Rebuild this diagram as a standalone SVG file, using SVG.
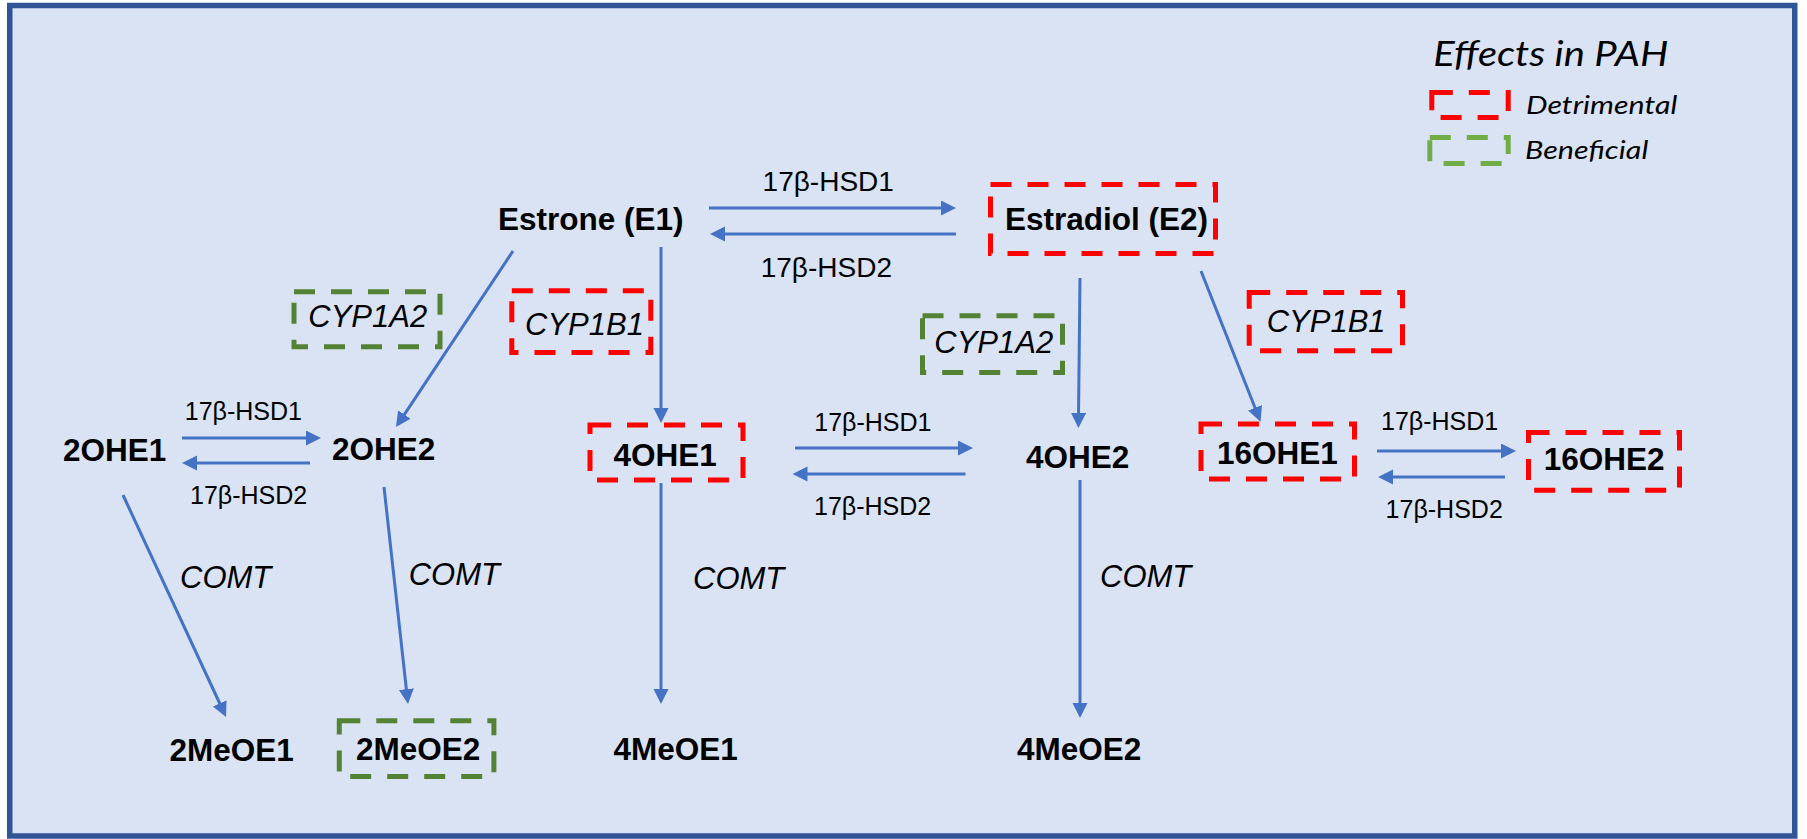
<svg xmlns="http://www.w3.org/2000/svg" width="1807" height="839" viewBox="0 0 1807 839">
<defs>
<marker id="ah" markerUnits="userSpaceOnUse" markerWidth="16" markerHeight="16" refX="4" refY="7.5" orient="auto">
<path d="M0,0 L15,7.5 L0,15 z" fill="#4472C4"/>
</marker>
<style>
.bg{fill:#DAE3F3;stroke:#2F5597;stroke-width:5.5}
.node{font-family:"Liberation Sans",Arial,sans-serif;font-weight:bold;font-size:31.5px;fill:#000}
.enz{font-family:"Liberation Sans",Arial,sans-serif;font-size:25px;fill:#000}
.enzL{font-family:"Liberation Sans",Arial,sans-serif;font-size:28px;fill:#000}
.it{font-family:"Liberation Sans",Arial,sans-serif;font-style:italic;font-size:31px;fill:#000}
.leg{font-family:Lato,"Open Sans",sans-serif;font-style:italic;fill:#000}
.red{fill:none;stroke:#FF0000;stroke-width:5;stroke-dasharray:21 16}
.grn{fill:none;stroke:#548235;stroke-width:5;stroke-dasharray:21 16}
.lgrn{fill:none;stroke:#70AD47;stroke-width:5;stroke-dasharray:21 16}
.arr{stroke:#4472C4;stroke-width:3;fill:none;marker-end:url(#ah)}
</style>
</defs>
<rect class="bg" x="9.75" y="5.5" width="1785" height="830.5"/>

<g id="legend">
<text class="leg" x="1433.3" y="66" font-size="34" textLength="235" lengthAdjust="spacingAndGlyphs">Effects in PAH</text>
<rect class="red" x="1431.8" y="92.5" width="76.4" height="25"/>
<text class="leg" x="1526" y="113.5" font-size="25" textLength="151.3" lengthAdjust="spacingAndGlyphs">Detrimental</text>
<rect class="lgrn" x="1429.8" y="137.5" width="78.4" height="26"/>
<text class="leg" x="1525" y="158.5" font-size="25" textLength="123.3" lengthAdjust="spacingAndGlyphs">Beneficial</text>
</g>

<g id="connectors">
<line class="arr" x1="709" y1="208" x2="945" y2="208"/>
<line class="arr" x1="956" y1="234" x2="721" y2="234"/>
<line class="arr" x1="513" y1="251" x2="402.1" y2="417.8"/>
<line class="arr" x1="661" y1="247" x2="661" y2="412"/>
<line class="arr" x1="182" y1="438" x2="310" y2="438"/>
<line class="arr" x1="310" y1="463" x2="193" y2="463"/>
<line class="arr" x1="123" y1="495" x2="221.4" y2="707"/>
<line class="arr" x1="384" y1="487" x2="406.8" y2="693.1"/>
<line class="arr" x1="661" y1="483" x2="661" y2="693"/>
<line class="arr" x1="795" y1="448" x2="962" y2="448"/>
<line class="arr" x1="965.5" y1="474" x2="803.5" y2="474"/>
<line class="arr" x1="1080" y1="278" x2="1078.5" y2="417"/>
<line class="arr" x1="1080" y1="480" x2="1080" y2="707"/>
<line class="arr" x1="1201" y1="271" x2="1256.5" y2="411.5"/>
<line class="arr" x1="1377" y1="451" x2="1505" y2="451"/>
<line class="arr" x1="1505" y1="477" x2="1389" y2="477"/>
</g>

<g id="edge-labels">
<text class="enzL" x="762.6" y="190.7">17β-HSD1</text>
<text class="enzL" x="760.7" y="277.3">17β-HSD2</text>
<text class="enz" x="184.8" y="420">17β-HSD1</text>
<text class="enz" x="190" y="504">17β-HSD2</text>
<text class="enz" x="814.3" y="431">17β-HSD1</text>
<text class="enz" x="814" y="515">17β-HSD2</text>
<text class="enz" x="1381" y="430">17β-HSD1</text>
<text class="enz" x="1385.6" y="517.7">17β-HSD2</text>
<text class="it" x="180" y="588.3">COMT</text>
<text class="it" x="408.7" y="585">COMT</text>
<text class="it" x="693" y="589">COMT</text>
<text class="it" x="1100" y="586.7">COMT</text>
</g>

<g id="cyp1a2-left">
<rect class="grn" x="294" y="291.8" width="146" height="55"/>
<text class="it" x="308.3" y="327.3">CYP1A2</text>
</g>
<g id="cyp1b1-left">
<rect class="red" x="511.8" y="290.8" width="139" height="61.7"/>
<text class="it" x="525" y="335">CYP1B1</text>
</g>
<g id="cyp1a2-mid">
<rect class="grn" x="922.5" y="315.8" width="140" height="56.7"/>
<text class="it" x="934.3" y="352.7">CYP1A2</text>
</g>
<g id="cyp1b1-right">
<rect class="red" x="1249.2" y="292.5" width="153.3" height="58.3"/>
<text class="it" x="1266.7" y="331.7">CYP1B1</text>
</g>

<g id="estrone"><text class="node" x="498" y="230.3" font-size="31.5">Estrone (E1)</text></g>
<g id="estradiol">
<rect class="red" x="990.5" y="184.5" width="225" height="69"/>
<text class="node" x="1005" y="229.5" font-size="31.5">Estradiol (E2)</text>
</g>
<g id="n2OHE1"><text class="node" x="63" y="461">2OHE1</text></g>
<g id="n2OHE2"><text class="node" x="332" y="460">2OHE2</text></g>
<g id="n4OHE1">
<rect class="red" x="590" y="425" width="153" height="55"/>
<text class="node" x="613.4" y="466">4OHE1</text>
</g>
<g id="n4OHE2"><text class="node" x="1026" y="467.7">4OHE2</text></g>
<g id="n16OHE1">
<rect class="red" x="1201" y="424" width="153.5" height="55"/>
<text class="node" x="1217" y="464">16OHE1</text>
</g>
<g id="n16OHE2">
<rect class="red" x="1528.5" y="432.5" width="151" height="57.7"/>
<text class="node" x="1543.7" y="470">16OHE2</text>
</g>
<g id="n2MeOE1"><text class="node" x="169.5" y="761">2MeOE1</text></g>
<g id="n2MeOE2">
<rect class="grn" x="339.3" y="720.8" width="154.6" height="55.7"/>
<text class="node" x="356" y="760">2MeOE2</text>
</g>
<g id="n4MeOE1"><text class="node" x="613.4" y="760">4MeOE1</text></g>
<g id="n4MeOE2"><text class="node" x="1017" y="760">4MeOE2</text></g>
</svg>
